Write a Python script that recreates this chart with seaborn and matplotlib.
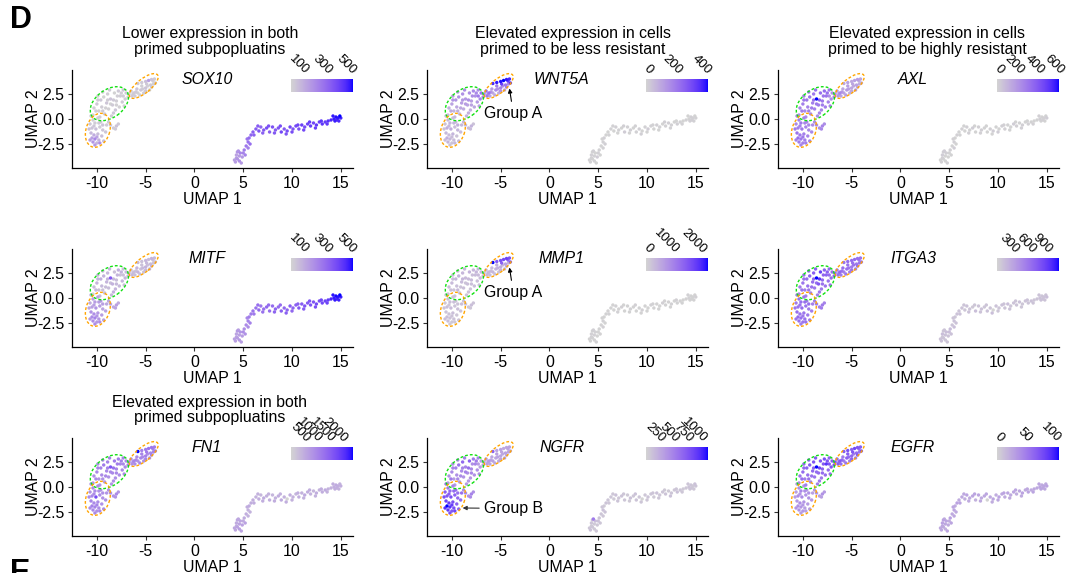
import numpy as np
import pandas as pd
import matplotlib
matplotlib.use("Agg")
import matplotlib.pyplot as plt
from matplotlib.colors import ListedColormap, Normalize
from matplotlib.cm import ScalarMappable
from matplotlib.patches import Ellipse
import seaborn as sns

# UMAP coordinates of the cells (same embedding in every panel)
# blocks: group A arm, connector, green cluster, group B cluster, tail, right trajectory,
# then a second pass of extra cells in the same region order
umap1 = [-5.8, -5.4, -5.0, -4.7, -4.4, -4.1, -4.25, -6.3, -6.0, -5.8, -5.5, -5.3, -5.0, -4.8, -4.5, -4.2, -5.9, -4.6, -5.2,
         -7.0, -6.7, -6.5, -6.8, -7.3, -6.4,
         -10.3, -10.0, -9.8, -9.6, -9.5, -9.3, -9.2, -9.0, -8.9, -8.8, -8.6, -8.5, -8.4, -8.2, -8.1, -8.0, -7.8, -7.7,
         -7.6, -7.4, -7.3, -9.9, -10.4, -9.4, -8.7, -7.2, -9.7, -8.3,
         -10.6, -10.4, -10.7, -10.2, -9.9, -9.6, -10.5, -10.1, -9.7, -9.4, -10.6, -10.3, -9.9, -9.5, -10.5, -10.2, -9.8,
         -10.4, -10.0, -9.3, -9.1, -9.0,
         -8.6, -8.3, -8.0, -7.8,
         4.2, 4.4, 4.3, 4.6, 4.7, 4.9, 5.1, 4.5, 5.2, 4.3,
         5.3, 5.5, 5.6, 5.8, 5.5, 6.0,
         6.3, 6.6, 6.8, 7.1, 7.4, 7.7, 8.0, 8.3, 8.6, 8.9, 9.2, 9.5, 9.8, 10.1, 10.4, 10.7, 11.0, 11.3, 11.6, 11.9,
         12.2, 12.5, 12.8, 13.1, 13.4, 13.7,
         14.0, 14.3, 14.5, 14.7, 14.9, 15.0, 14.6,
         -6.1, -5.6, -5.0, -4.4, -4.0, -5.4, -4.9,
         -7.1, -6.2,
         -10.1, -9.9, -9.1, -8.9, -8.3, -7.9, -8.6, -9.4, -7.5, -8.0,
         -10.8, -10.3, -9.8, -10.0, -9.7, -10.7, -9.4, -10.2,
         -8.8, -8.1,
         4.1, 4.8, 5.0, 4.4, 4.6,
         5.4, 5.7, 6.1,
         6.5, 7.0, 7.6, 8.2, 8.8, 9.4, 10.0, 10.6, 11.2, 11.8, 12.4, 13.0, 13.6,
         14.2, 14.8, 14.4]
umap2 = [3.55, 3.65, 3.75, 3.85, 3.95, 4.0, 3.8, 2.5, 2.7, 2.6, 2.9, 3.0, 3.1, 3.3, 3.4, 3.5, 3.0, 2.9, 2.6,
         2.6, 2.5, 2.8, 2.2, 2.3, 2.3,
         1.1, 1.5, 0.8, 1.9, 1.2, 2.2, 0.5, 1.6, 2.5, 1.0, 2.0, 0.3, 1.4, 2.6, 0.9, 1.8, 2.8, 1.2,
         2.3, 1.7, 2.9, 2.3, 0.4, 2.7, 2.9, 1.3, 0.2, 0.6,
         0.3, -0.1, -0.5, -0.4, 0.1, -0.3, -0.9, -1.0, -0.8, -1.1, -1.4, -1.6, -1.5, -1.7, -1.9, -2.0, -2.1,
         -2.3, -2.4, -2.2, -1.3, -0.6,
         -0.6, -0.9, -0.7, -0.5,
         -4.3, -4.0, -3.6, -4.2, -3.4, -3.8, -3.1, -3.2, -3.6, -3.9,
         -2.7, -2.3, -1.9, -1.6, -2.9, -1.3,
         -1.0, -1.2, -0.8, -1.1, -0.9, -1.3, -0.8, -1.1, -0.9, -1.3, -1.0, -1.2, -0.8, -1.0, -0.7, -1.0, -0.6, -0.8,
         -0.5, -0.7, -0.4, -0.6, -0.3, -0.5, -0.3, -0.2,
         -0.1, 0.0, 0.2, 0.1, 0.3, 0.1, -0.1,
         2.3, 2.4, 2.8, 3.2, 3.6, 3.3, 3.5,
         2.0, 2.6,
         0.8, 1.9, 1.1, 1.9, 1.9, 2.3, 1.5, 0.8, 2.6, 1.4,
         -1.0, -0.7, -0.4, -1.8, -2.4, -2.1, -0.6, -2.6,
         -0.3, -1.0,
         -4.1, -4.4, -3.4, -3.3, -3.7,
         -2.0, -2.5, -1.6,
         -0.7, -1.4, -0.7, -1.4, -0.7, -1.5, -1.3, -0.6, -1.1, -0.3, -0.9, -0.2, -0.5,
         0.3, -0.2, -0.2]

# expression values per gene, same cell order
sox10 = [40, 30, 60, 150, 50, 30, 20, 20, 30, 10, 40, 25, 50, 15, 35, 20, 45, 10, 30,
         30, 20, 40, 15, 25, 35,
         20, 35, 15, 40, 25, 10, 30, 45, 20, 15, 50, 25, 30, 10, 40, 20, 35, 15, 25, 30, 45, 10, 5, 20, 35, 15, 25, 40,
         30, 20, 40, 25, 15, 35, 50, 60, 30, 45, 80, 120, 70, 60, 150, 220, 100, 180, 90, 60, 40, 30,
         40, 30, 50, 35,
         160, 180, 140, 200, 220, 170, 250, 190, 230, 150,
         260, 280, 300, 320, 240, 330,
         340, 360, 320, 350, 380, 330, 370, 340, 360, 390, 350, 380, 400, 360, 390, 370, 410, 380, 400, 420,
         390, 430, 410, 440, 420, 450,
         470, 490, 510, 500, 526, 480, 460,
         30, 20, 40, 25, 35, 20, 30,
         25, 30,
         20, 30, 15, 25, 35, 20, 10, 30, 25, 15,
         60, 40, 30, 140, 200, 160, 50, 170,
         40, 30,
         150, 170, 230, 180, 160,
         270, 290, 320,
         340, 330, 370, 350, 380, 360, 380, 400, 390, 420, 410, 440, 430,
         500, 470, 490]
mitf = [80, 60, 90, 70, 100, 80, 60, 70, 50, 90, 60, 80, 100, 60, 70, 50, 90, 80, 60,
        80, 100, 70, 90, 60, 80,
        70, 90, 60, 110, 80, 100, 60, 90, 80, 70, 350, 80, 100, 60, 90, 70, 110, 80, 60, 90, 70, 100, 5, 80, 90, 60, 70, 100,
        130, 150, 120, 160, 140, 170, 150, 180, 160, 140, 190, 200, 170, 160, 210, 230, 180, 200, 170, 150, 140, 130,
        140, 130, 150, 120,
        150, 160, 140, 170, 180, 160, 200, 150, 190, 140,
        210, 230, 250, 260, 200, 270,
        280, 300, 270, 290, 310, 290, 300, 320, 300, 330, 310, 320, 340, 320, 330, 350, 340, 360, 350, 370,
        360, 390, 380, 400, 410, 430,
        480, 500, 520, 510, 530, 490, 470,
        70, 60, 80, 90, 70, 60, 80,
        90, 70,
        80, 90, 70, 100, 80, 90, 70, 60, 100, 80,
        140, 150, 160, 180, 200, 170, 150, 210,
        130, 140,
        150, 160, 200, 170, 150,
        220, 240, 260,
        290, 280, 300, 320, 300, 330, 310, 330, 340, 360, 380, 400, 410,
        510, 490, 500]
wnt5a = [380, 400, 410, 420, 400, 380, 350, 120, 140, 100, 170, 150, 190, 160, 210, 170, 130, 110, 90,
         220, 190, 250, 170, 200, 210,
         80, 110, 70, 140, 100, 150, 60, 120, 150, 90, 130, 70, 110, 160, 80, 120, 170, 100, 150, 130,
         160, 120, 50, 140, 160, 110, 60, 80,
         50, 60, 40, 70, 50, 60, 80, 90, 50, 70, 60, 50, 70, 40, 80, 60, 50, 70, 40, 60, 50, 60,
         60, 50, 70, 40,
         5, 0, 10, 5, 0, 15, 5, 10, 0, 5,
         0, 5, 10, 0, 5, 0,
         5, 0, 10, 5, 0, 15, 5, 10, 0, 5, 10, 0, 5, 15, 5, 0, 10, 5, 0, 5, 10, 5, 0, 10, 5, 0,
         5, 0, 10, 5, 0, 5, 10,
         110, 100, 150, 200, 360, 200, 330,
         180, 220,
         90, 140, 100, 130, 150, 160, 120, 80, 170, 110,
         40, 60, 70, 50, 60, 50, 80, 40,
         60, 50,
         5, 0, 10, 0, 5,
         0, 10, 5,
         5, 0, 10, 0, 5, 10, 0, 5, 0, 10, 5, 0, 5,
         0, 5, 10]
mmp1 = [2300, 1500, 1600, 1700, 1800, 1600, 1400, 300, 250, 350, 400, 450, 500, 350, 600, 400, 300, 250, 200,
        350, 300, 400, 250, 300, 350,
        250, 300, 200, 350, 250, 400, 200, 300, 350, 250, 300, 200, 250, 400, 200, 300, 350, 250, 300, 250,
        350, 300, 150, 300, 350, 250, 200, 200,
        200, 250, 150, 250, 200, 200, 250, 300, 200, 250, 200, 200, 250, 150, 250, 200, 200, 250, 150, 200, 200, 250,
        200, 150, 250, 200,
        20, 0, 40, 10, 30, 0, 20, 50, 10, 30,
        10, 30, 0, 20, 40, 10,
        20, 0, 30, 10, 40, 0, 20, 30, 10, 0, 20, 40, 10, 0, 30, 20, 10, 0, 40, 20, 10, 30, 0, 20, 10, 0,
        10, 30, 0, 20, 10, 40, 20,
        300, 250, 400, 500, 1500, 450, 1400,
        300, 350,
        250, 300, 200, 350, 300, 250, 200, 300, 350, 250,
        200, 150, 250, 200, 150, 250, 200, 150,
        200, 150,
        10, 30, 0, 20, 40,
        20, 0, 30,
        10, 30, 0, 20, 40, 10, 0, 30, 20, 10, 0, 40, 20,
        30, 10, 0]
axl = [150, 160, 140, 170, 180, 150, 130, 180, 200, 160, 190, 170, 150, 140, 160, 130, 150, 170, 120,
       220, 240, 200, 260, 230, 210,
       260, 280, 240, 300, 260, 320, 250, 280, 300, 270, 610, 240, 290, 330, 260, 300, 340, 280, 310, 270,
       300, 280, 220, 310, 320, 260, 240, 260,
       260, 280, 240, 300, 270, 260, 280, 300, 260, 250, 310, 300, 280, 260, 320, 300, 280, 290, 270, 260, 250, 240,
       240, 220, 260, 230,
       10, 0, 20, 5, 15, 0, 10, 20, 5, 10,
       5, 15, 0, 10, 20, 5,
       10, 0, 15, 5, 20, 0, 10, 15, 5, 0, 10, 20, 5, 0, 15, 10, 5, 0, 20, 10, 5, 15, 0, 10, 5, 0,
       5, 15, 0, 10, 5, 20, 10,
       160, 180, 150, 140, 130, 170, 150,
       230, 250,
       280, 300, 290, 320, 350, 310, 300, 270, 320, 290,
       290, 270, 260, 300, 280, 270, 250, 260,
       230, 250,
       0, 10, 5, 15, 0,
       10, 0, 5,
       5, 15, 0, 10, 5, 0, 20, 10, 5, 0, 15, 5, 10,
       10, 0, 5]
itga3 = [600, 620, 640, 650, 620, 600, 580, 550, 580, 520, 600, 570, 540, 600, 560, 580, 620, 500, 540,
         620, 650, 600, 680, 640, 610,
         550, 580, 520, 640, 600, 700, 500, 620, 720, 560, 1140, 520, 760, 900, 560, 650, 700, 580, 680, 600,
         650, 620, 480, 680, 700, 600, 520, 560,
         560, 600, 540, 620, 580, 560, 600, 640, 580, 560, 620, 600, 580, 560, 640, 620, 600, 610, 580, 560, 540, 520,
         540, 520, 560, 500,
         120, 100, 140, 90, 130, 110, 150, 100, 120, 80,
         100, 120, 90, 110, 130, 100,
         110, 90, 120, 100, 80, 130, 100, 110, 90, 120, 100, 10, 110, 90, 120, 100, 130, 90, 110, 100,
         120, 90, 110, 100, 120, 90,
         100, 120, 90, 110, 100, 130, 110,
         560, 580, 600, 640, 620, 590, 610,
         630, 660,
         580, 620, 600, 650, 950, 680, 620, 560, 700, 600,
         580, 600, 620, 560, 600, 580, 620, 540,
         520, 540,
         110, 100, 130, 90, 120,
         100, 110, 120,
         100, 120, 90, 110, 100, 130, 90, 110, 120, 100, 90, 110, 100,
         110, 100, 120]
fn1 = [2460, 1100, 1200, 1300, 1250, 1150, 1100, 900, 1000, 850, 1050, 950, 1100, 900, 1000, 1050, 950, 850, 900,
       1000, 1100, 950, 1050, 1000, 900,
       900, 1000, 850, 1100, 950, 1200, 800, 1000, 1100, 900, 1700, 850, 1000, 1200, 900, 1050, 1150, 950, 1050, 1000,
       1100, 950, 800, 1050, 1100, 950, 850, 900,
       900, 1000, 850, 950, 950, 900, 1000, 1800, 950, 900, 1050, 1000, 950, 900, 1100, 1050, 950, 1000, 900, 950,
       900, 850,
       900, 850, 950, 800,
       600, 650, 550, 700, 600, 650, 550, 600, 650, 500,
       500, 450, 550, 500, 450, 500,
       450, 500, 400, 550, 450, 500, 400, 450, 500, 550, 450, 10, 500, 450, 400, 500, 450, 550, 500, 450,
       400, 500, 450, 500, 550, 450,
       450, 500, 550, 500, 450, 500, 480,
       950, 1000, 1050, 1100, 1200, 1050, 1150,
       1000, 1050,
       950, 1050, 1000, 1100, 1300, 1150, 1000, 900, 1100, 1000,
       1000, 950, 900, 1050, 1000, 950, 900, 1000,
       900, 850,
       600, 650, 550, 600, 650,
       500, 450, 500,
       450, 500, 450, 500, 450, 500, 450, 500, 450, 500, 450, 500, 450,
       500, 450, 500]
ngfr = [700, 300, 320, 280, 300, 310, 290, 300, 280, 320, 290, 310, 300, 280, 320, 300, 290, 310, 280,
        350, 320, 380, 300, 340, 330,
        400, 450, 350, 500, 420, 600, 380, 450, 650, 400, 480, 360, 420, 700, 380, 450, 550, 400, 480, 420,
        500, 440, 350, 460, 520, 400, 380, 360,
        600, 550, 700, 650, 500, 600, 750, 800, 700, 650, 850, 900, 800, 700, 1120, 950, 800, 900, 750, 700, 650, 600,
        450, 400, 500, 420,
        120, 100, 110, 80, 150, 90, 110, 550, 100, 60,
        100, 120, 80, 110, 90, 100,
        100, 80, 120, 90, 110, 100, 80, 120, 90, 110, 100, 20, 90, 110, 100, 80, 120, 90, 100, 110,
        80, 100, 90, 120, 100, 80,
        90, 110, 100, 80, 120, 100, 90,
        300, 280, 310, 290, 300, 320, 300,
        340, 360,
        550, 500, 450, 480, 600, 420, 500, 450, 520, 460,
        800, 700, 650, 900, 850, 950, 600, 800,
        420, 450,
        100, 90, 120, 110, 80,
        100, 110, 90,
        90, 110, 100, 80, 120, 100, 90, 110, 100, 80, 120, 100, 90,
        100, 90, 110]
egfr = [70, 75, 65, 80, 72, 68, 60, 55, 60, 50, 65, 58, 62, 50, 60, 55, 52, 48, 50,
        70, 80, 65, 75, 72, 68,
        55, 60, 50, 65, 58, 70, 48, 62, 72, 55, 107, 50, 60, 72, 52, 65, 75, 58, 90, 60,
        65, 62, 45, 66, 70, 58, 50, 52,
        35, 40, 30, 45, 38, 35, 40, 42, 36, 38, 34, 40, 36, 32, 38, 35, 30, 36, 34, 32, 35, 30,
        35, 30, 38, 32,
        25, 22, 28, 20, 26, 24, 30, 22, 27, 25,
        24, 26, 22, 28, 25, 23,
        25, 22, 28, 24, 26, 20, 27, 23, 25, 0, 24, 26, 22, 28, 25, 23, 27, 24, 26, 22,
        25, 28, 24, 26, 23, 25,
        25, 27, 23, 26, 24, 28, 25,
        60, 55, 65, 70, 75, 68, 72,
        72, 70,
        58, 62, 55, 64, 80, 70, 60, 55, 72, 60,
        32, 36, 40, 34, 30, 36, 38, 32,
        34, 30,
        24, 26, 22, 28, 25,
        26, 24, 27,
        25, 23, 27, 24, 26, 22, 25, 28, 24, 26, 23, 25, 27,
        26, 24, 27]

genes = [["SOX10", "WNT5A", "AXL"], ["MITF", "MMP1", "ITGA3"], ["FN1", "NGFR", "EGFR"]]
expr = {"SOX10": sox10, "WNT5A": wnt5a, "AXL": axl, "MITF": mitf, "MMP1": mmp1,
        "ITGA3": itga3, "FN1": fn1, "NGFR": ngfr, "EGFR": egfr}
cbar_ticks = {"SOX10": [100, 300, 500], "WNT5A": [0, 200, 400], "AXL": [0, 200, 400, 600],
              "MITF": [100, 300, 500], "MMP1": [0, 1000, 2000], "ITGA3": [300, 600, 900],
              "FN1": [500, 1000, 1500, 2000], "NGFR": [250, 500, 750, 1000], "EGFR": [0, 50, 100]}
headers = ["Lower expression in both\nprimed subpopluatins",
           "Elevated expression in cells\nprimed to be less resistant",
           "Elevated expression in cells\nprimed to be highly resistant",
           "Elevated expression in both\nprimed subpopluatins"]


def to_lab(rgb):
    c = np.asarray(rgb, float)
    lin = np.where(c <= 0.04045, c / 12.92, ((c + 0.055) / 1.055) ** 2.4)
    xyz = lin @ M.T / WHITE
    f = np.where(xyz > 0.008856, np.cbrt(xyz), 7.787 * xyz + 16 / 116)
    return np.stack([116 * f[..., 1] - 16, 500 * (f[..., 0] - f[..., 1]), 200 * (f[..., 1] - f[..., 2])], -1)


def to_rgb(lab):
    fy = (lab[..., 0] + 16) / 116
    f = np.stack([fy + lab[..., 1] / 500, fy, fy - lab[..., 2] / 200], -1)
    xyz = np.where(f ** 3 > 0.008856, f ** 3, (f - 16 / 116) / 7.787) * WHITE
    lin = np.clip(xyz @ np.linalg.inv(M).T, 0, 1)
    return np.clip(np.where(lin <= 0.0031308, 12.92 * lin, 1.055 * lin ** (1 / 2.4) - 0.055), 0, 1)


M = np.array([[0.4124, 0.3576, 0.1805], [0.2126, 0.7152, 0.0722], [0.0193, 0.1192, 0.9505]])
WHITE = np.array([0.95047, 1.0, 1.08883])
# lightgrey -> blue, interpolated in Lab like ggplot does
lab_lo = to_lab([211 / 255, 211 / 255, 211 / 255])
lab_hi = to_lab([0.0, 0.0, 1.0])
t = np.linspace(0, 1, 256)[:, None]
cmap = ListedColormap(to_rgb((1 - t) * lab_lo + t * lab_hi))

sns.set_style("ticks")
plt.rcParams["font.family"] = ["Liberation Sans", "DejaVu Sans"]
plt.rcParams["text.color"] = "black"
plt.rcParams["axes.labelcolor"] = "black"
W, H = 1078, 573
fig = plt.figure(figsize=(W / 100, H / 100), dpi=100)

col_left = [72, 427, 778]
row_top = [70, 249, 438]
aw, ah = 281, 98

for r in range(3):
    for c in range(3):
        g = genes[r][c]
        ax = fig.add_axes([col_left[c] / W, 1 - (row_top[r] + ah) / H, aw / W, ah / H])
        df = pd.DataFrame({"UMAP_1": umap1, "UMAP_2": umap2, "expr": expr[g]}).sort_values("expr")
        norm = Normalize(df["expr"].min(), df["expr"].max())
        sns.scatterplot(data=df, x="UMAP_1", y="UMAP_2", hue="expr", palette=cmap, hue_norm=norm,
                        s=6, linewidth=0, legend=False, ax=ax)
        ax.set_xlim(-12.55, 16.25)
        ax.set_ylim(-4.9, 4.9)
        ax.set_xticks([-10, -5, 0, 5, 10, 15])
        ax.set_yticks([-2.5, 0, 2.5])
        ax.set_yticklabels(["-2.5", "0.0", "2.5"])
        ax.set_xticklabels(["-10", "-5", "0", "5", "10", "15"])
        ax.tick_params(length=3, width=0.8, color="#333333", labelsize=11.4, pad=2.5, labelcolor="black")
        for s in ["left", "bottom"]:
            ax.spines[s].set_linewidth(0.9)
            ax.spines[s].set_color("black")
        sns.despine(ax=ax)
        ax.set_xlabel("UMAP 1", fontsize=11.4)
        ax.set_ylabel("UMAP 2", fontsize=11.4)
        ax.xaxis.set_label_coords(0.5, -0.24)
        ax.yaxis.set_label_coords(-0.112, 0.5)

        # dashed outlines of the primed subpopulations
        ax.add_patch(Ellipse((-5.2, 3.3), 3.6, 1.4, angle=38, fill=False, ec="#FFA500", lw=1.0, ls=(0, (2, 1.5))))
        ax.add_patch(Ellipse((-8.72, 1.53), 4.36, 2.81, angle=35, fill=False, ec="#11E011", lw=1.0, ls=(0, (2, 1.5))))
        ax.add_patch(Ellipse((-9.9, -1.13), 3.51, 2.41, angle=70, fill=False, ec="#FFA500", lw=1.0, ls=(0, (2, 1.5))))

        ax.text(0.48, 0.898, g, transform=ax.transAxes, ha="center", va="center",
                fontsize=11.4, style="italic")

        cax = ax.inset_axes([0.78, 0.776, 0.22, 0.133])
        cb = fig.colorbar(ScalarMappable(norm=norm, cmap=cmap), cax=cax, orientation="horizontal")
        cb.outline.set_visible(False)
        cb.set_ticks(cbar_ticks[g])
        cax.tick_params(axis="x", direction="in", length=2.2, width=0.8, colors="white",
                        top=True, bottom=True, labeltop=True, labelbottom=False,
                        labelcolor="black", labelsize=9.5, pad=1.5)
        for lbl in cax.get_xticklabels():
            lbl.set_rotation(-45)
            lbl.set_ha("right")
            lbl.set_va("bottom")
            lbl.set_rotation_mode("anchor")

        if g in ("WNT5A", "MMP1"):
            ax.annotate("Group A", xy=(-4.1, 3.05), xytext=(-3.7, 0.55), ha="center", va="center",
                        fontsize=11.4, arrowprops=dict(arrowstyle="-|>", lw=0.8, color="black",
                                                       mutation_scale=6, shrinkA=1, shrinkB=0))
        if g == "NGFR":
            ax.annotate("Group B", xy=(-8.9, -2.1), xytext=(-3.7, -2.15), ha="center", va="center",
                        fontsize=11.4, arrowprops=dict(arrowstyle="-|>", lw=0.8, color="#333333",
                                                       mutation_scale=6, shrinkA=1, shrinkB=0))

for (x, y), txt in zip([(210, 41.5), (573, 41.5), (927, 41.5), (210, 410)], headers):
    fig.text(x / W, 1 - y / H, txt, ha="center", va="center", fontsize=11.4, linespacing=1.05)

# panel letters; the "E" of the next panel is cut by the bottom edge, as in the source figure
fig.text(10 / W, 1 - 5 / H, "D", ha="left", va="top", fontsize=22, weight="bold")
fig.text(10 / W, 1 - 558 / H, "E", ha="left", va="top", fontsize=22, weight="bold")

fig.savefig("out.png", dpi=100)
